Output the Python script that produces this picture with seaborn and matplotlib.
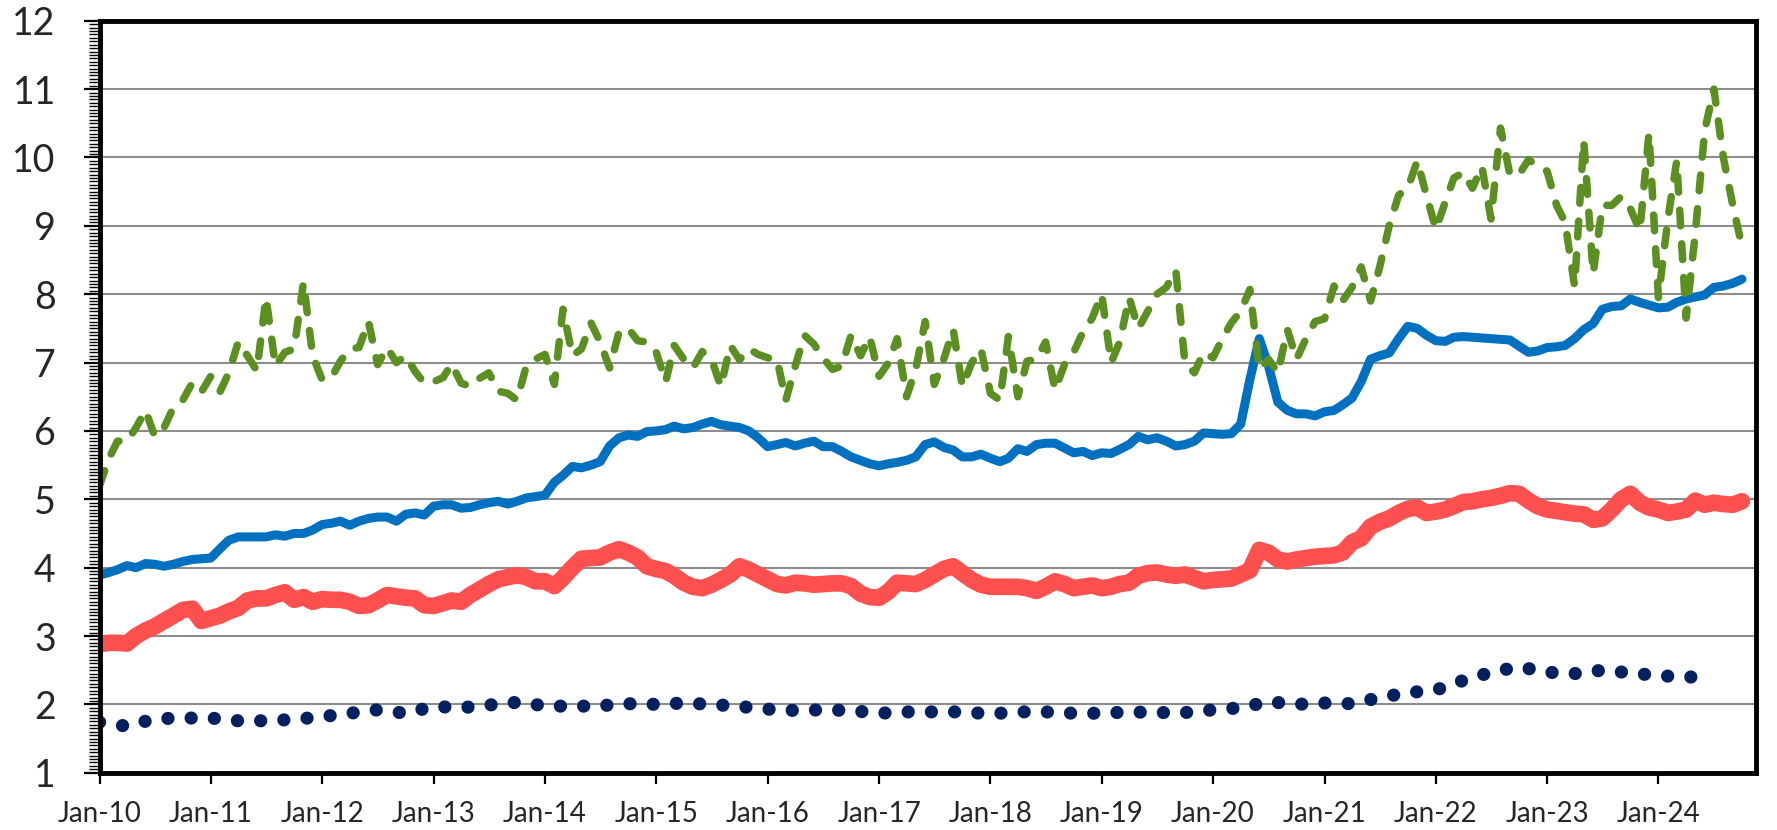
"""Four monthly series, 2010-2024, Excel-like line chart."""
import pandas as pd
import matplotlib.pyplot as plt
from matplotlib.ticker import MultipleLocator
import seaborn as sns

months = pd.date_range("2010-01-01", periods=178, freq="MS")
quarters = pd.date_range("2010-01-01", periods=59, freq="QS")

year_ticks = pd.date_range("2010-01-01", "2024-01-01", freq="YS")
tick_labels = ["Jan-10", "Jan-11", "Jan-12", "Jan-13", "Jan-14", "Jan-15",
               "Jan-16", "Jan-17", "Jan-18", "Jan-19", "Jan-20", "Jan-21",
               "Jan-22", "Jan-23", "Jan-24"]
y_ticks = [1, 2, 3, 4, 5, 6, 7, 8, 9, 10, 11, 12]

green_dashed = [
    5.20, 5.60, 5.85, 5.85, 6.05, 6.30, 5.92, 6.05, 6.35, 6.45, 6.70, 6.57,
    6.80, 6.58, 6.85, 7.30, 7.10, 6.88, 7.95, 6.95, 7.15, 7.20, 8.17, 7.10,
    6.75, 6.78, 7.02, 7.20, 7.22, 7.60, 6.97, 7.22, 7.00, 7.10, 6.87, 6.70,
    6.72, 6.78, 6.98, 6.70, 6.65, 6.77, 6.85, 6.58, 6.55, 6.45, 6.95, 7.05,
    7.12, 6.68, 7.78, 7.10, 7.20, 7.58, 7.30, 6.92, 7.45, 7.50, 7.32, 7.30,
    7.15, 6.72, 7.25, 7.05, 6.92, 7.16, 7.05, 6.65, 7.25, 7.04, 7.20, 7.12,
    7.07, 7.05, 6.45, 6.95, 7.40, 7.27, 7.07, 6.90, 6.95, 7.40, 7.10, 7.38,
    6.80, 7.00, 7.35, 6.50, 6.90, 7.60, 6.68, 7.05, 7.48, 6.65, 7.00, 7.20,
    6.55, 6.45, 7.38, 6.50, 7.02, 7.05, 7.30, 6.60, 6.97, 7.15, 7.45, 7.65,
    8.00, 7.00, 7.30, 7.95, 7.50, 7.75, 8.00, 8.10, 8.35, 7.00, 6.85, 7.15,
    7.07, 7.35, 7.58, 7.75, 8.07, 6.90, 7.05, 6.85, 7.48, 7.05, 7.35, 7.60,
    7.64, 8.12, 7.90, 8.10, 8.40, 7.90, 8.40, 9.00, 9.45, 9.55, 9.95, 9.45,
    8.95, 9.35, 9.70, 9.78, 9.55, 9.87, 9.10, 10.43, 9.75, 9.75, 9.97, 9.87,
    9.80, 9.30, 9.05, 8.12, 10.25, 8.30, 9.30, 9.30, 9.43, 9.25, 8.93, 10.35,
    7.95, 9.10, 9.95, 7.65, 8.90, 10.40, 11.00, 10.00, 9.30, 8.70,
]

blue_line = [
    3.89, 3.93, 3.97, 4.03, 4.00, 4.06, 4.05, 4.02, 4.05, 4.09, 4.12, 4.13,
    4.14, 4.28, 4.40, 4.45, 4.45, 4.45, 4.45, 4.48, 4.46, 4.50, 4.50, 4.55,
    4.63, 4.65, 4.68, 4.62, 4.68, 4.72, 4.74, 4.74, 4.68, 4.78, 4.80, 4.77,
    4.90, 4.92, 4.92, 4.87, 4.88, 4.92, 4.95, 4.97, 4.93, 4.97, 5.02, 5.04,
    5.06, 5.25, 5.35, 5.48, 5.46, 5.50, 5.55, 5.78, 5.90, 5.94, 5.92, 5.99,
    6.00, 6.02, 6.07, 6.03, 6.05, 6.10, 6.14, 6.09, 6.07, 6.05, 6.00, 5.90,
    5.77, 5.80, 5.83, 5.78, 5.82, 5.85, 5.77, 5.77, 5.70, 5.62, 5.57, 5.52,
    5.49, 5.52, 5.54, 5.57, 5.62, 5.80, 5.84, 5.76, 5.72, 5.62, 5.62, 5.66,
    5.60, 5.55, 5.60, 5.74, 5.70, 5.80, 5.82, 5.82, 5.75, 5.68, 5.70, 5.64,
    5.68, 5.67, 5.73, 5.80, 5.92, 5.87, 5.90, 5.85, 5.78, 5.80, 5.85, 5.97,
    5.96, 5.95, 5.96, 6.10, 6.75, 7.35, 6.95, 6.42, 6.30, 6.25, 6.25, 6.22,
    6.28, 6.30, 6.38, 6.48, 6.72, 7.05, 7.10, 7.14, 7.35, 7.53, 7.50, 7.40,
    7.32, 7.31, 7.37, 7.38, 7.37, 7.36, 7.35, 7.34, 7.33, 7.24, 7.15, 7.17,
    7.22, 7.23, 7.25, 7.35, 7.48, 7.57, 7.78, 7.82, 7.83, 7.93, 7.88, 7.84,
    7.80, 7.81, 7.88, 7.93, 7.96, 7.99, 8.10, 8.12, 8.16, 8.22,
]

red_line = [
    2.88, 2.90, 2.90, 2.89, 3.00, 3.08, 3.14, 3.22, 3.30, 3.38, 3.40, 3.22,
    3.26, 3.30, 3.36, 3.41, 3.52, 3.55, 3.55, 3.60, 3.64, 3.53, 3.57, 3.50,
    3.54, 3.53, 3.53, 3.50, 3.44, 3.45, 3.52, 3.60, 3.58, 3.56, 3.55, 3.45,
    3.44, 3.48, 3.52, 3.50, 3.60, 3.68, 3.76, 3.83, 3.86, 3.89, 3.86, 3.80,
    3.80, 3.73, 3.85, 4.00, 4.13, 4.14, 4.15, 4.22, 4.27, 4.22, 4.15, 4.02,
    3.98, 3.95, 3.88, 3.78, 3.72, 3.70, 3.75, 3.82, 3.90, 4.02, 3.97, 3.90,
    3.83, 3.76, 3.74, 3.78, 3.77, 3.75, 3.76, 3.77, 3.77, 3.73, 3.62, 3.57,
    3.56, 3.65, 3.78, 3.77, 3.76, 3.82, 3.90, 3.98, 4.02, 3.92, 3.82, 3.75,
    3.72, 3.72, 3.72, 3.72, 3.70, 3.66, 3.72, 3.80, 3.76, 3.70, 3.72, 3.74,
    3.70, 3.72, 3.76, 3.78, 3.88, 3.92, 3.93, 3.90, 3.88, 3.90, 3.85, 3.80,
    3.82, 3.83, 3.84, 3.90, 3.96, 4.26, 4.22, 4.12, 4.09, 4.12, 4.14, 4.16,
    4.17, 4.18, 4.22, 4.37, 4.43, 4.60, 4.67, 4.72, 4.80, 4.86, 4.88, 4.80,
    4.82, 4.85, 4.90, 4.96, 4.97, 5.00, 5.02, 5.05, 5.09, 5.08, 4.98, 4.90,
    4.85, 4.83, 4.81, 4.79, 4.78, 4.70, 4.72, 4.85, 5.00, 5.08, 4.95, 4.88,
    4.85, 4.80, 4.82, 4.85, 4.98, 4.92, 4.95, 4.93, 4.92, 4.97,
]

navy_dotted = [
    1.74, 1.68, 1.79, 1.80, 1.80, 1.76, 1.76, 1.78, 1.82, 1.87,
    1.92, 1.87, 1.97, 1.95, 1.99, 2.03, 1.98, 1.97, 1.98, 2.01,
    2.00, 2.02, 2.00, 1.97, 1.93, 1.91, 1.92, 1.91, 1.87, 1.89,
    1.89, 1.89, 1.86, 1.89, 1.89, 1.87, 1.87, 1.89, 1.88, 1.88,
    1.92, 1.95, 2.04, 2.00, 2.02, 2.01, 2.10, 2.17, 2.21, 2.35,
    2.47, 2.55, 2.47, 2.45, 2.50, 2.46, 2.42, 2.40, 2.40,
]

sns.set_style("white")
plt.rcParams["font.family"] = ["Lato", "DejaVu Sans"]

fig, ax = plt.subplots(figsize=(17.77, 8.30), dpi=100)
fig.subplots_adjust(left=0.056, right=0.988, bottom=0.069, top=0.975)

ax.yaxis.grid(True, color="#8c8c8c", lw=1.5)
ax.set_axisbelow(True)

sns.lineplot(x=months, y=red_line, ax=ax, color="#FF5050", lw=12,
             solid_capstyle="round", solid_joinstyle="round")
sns.lineplot(x=months, y=blue_line, ax=ax, color="#0070C0", lw=6.5,
             solid_capstyle="round", solid_joinstyle="round")
sns.lineplot(x=months, y=green_dashed, ax=ax, color="#5B8F22", lw=5.4,
             linestyle=(0, (2.1, 2.4)), dash_capstyle="round",
             dash_joinstyle="round")
sns.lineplot(x=quarters, y=navy_dotted, ax=ax, color="#002060", lw=9.5,
             linestyle=(0, (0.01, 1.75)), dash_capstyle="round")

ax.set_xlim(pd.Timestamp("2010-01-01"), pd.Timestamp("2024-11-15"))
ax.set_ylim(1, 12)
ax.set_xticks(year_ticks)
ax.set_xticklabels(tick_labels)
ax.set_yticks(y_ticks)
ax.set_yticklabels([str(v) for v in y_ticks])
ax.yaxis.set_minor_locator(MultipleLocator(0.05))
ax.set_xlabel("")
ax.set_ylabel("")

ax.tick_params(axis="both", which="both", left=True, bottom=True,
               direction="out", color="black")
ax.tick_params(axis="y", which="major", length=11.5, width=1.6,
               labelsize=27, pad=20)
ax.tick_params(axis="y", which="minor", length=8, width=1.0)
ax.tick_params(axis="x", which="major", length=8, width=1.6,
               labelsize=20, pad=12)

for spine in ax.spines.values():
    spine.set_visible(True)
    spine.set_color("black")
    spine.set_linewidth(3.5)

fig.savefig("out.png", dpi=100)
